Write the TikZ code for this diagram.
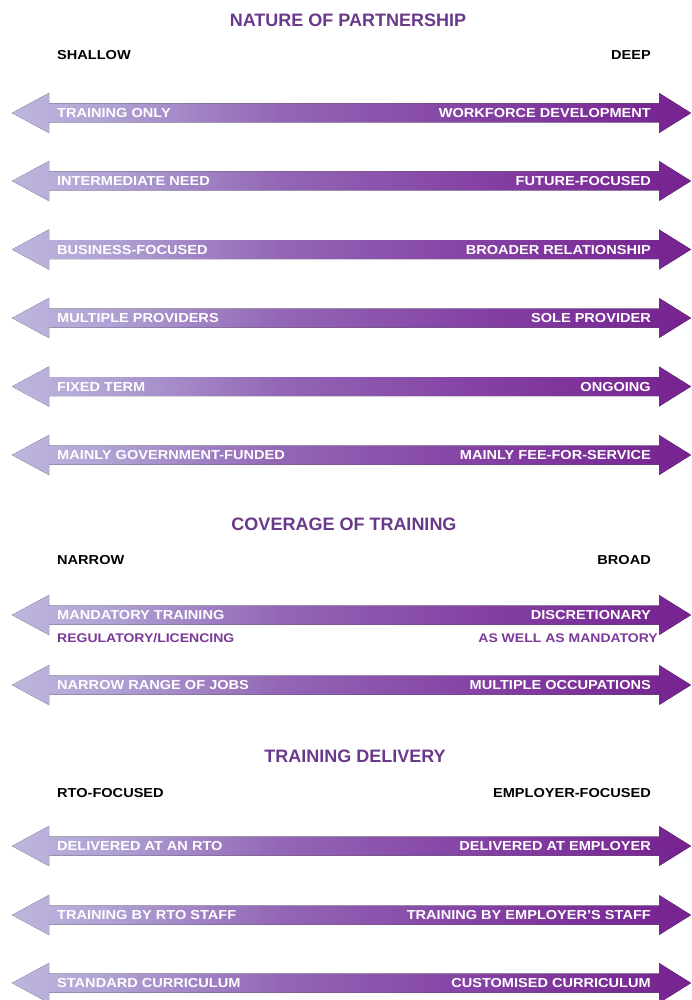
\documentclass[tikz,border=0pt]{standalone}
\usepackage{fontspec}
\setmainfont{Liberation Sans}
\usepackage{graphicx}
\definecolor{cA}{RGB}{190,182,222}
\definecolor{cA2}{RGB}{176,162,212}
\definecolor{cB}{RGB}{146,101,181}
\definecolor{cC}{RGB}{132,64,163}
\definecolor{cD}{RGB}{118,34,143}
\definecolor{ttl}{RGB}{106,58,138}
\definecolor{sub}{RGB}{123,58,152}
\pgfdeclarehorizontalshading{arrowshade}{100bp}{color(0bp)=(cA); color(25bp)=(cA); color(32bp)=(cA2); color(45bp)=(cB); color(60bp)=(cC); color(75bp)=(cD); color(100bp)=(cD)}
\newcommand\widetxt[1]{\scalebox{1.12}[1]{#1}}
\tikzset{
  lbl/.style={inner sep=0pt, text=white, font=\fontsize{13}{13}\selectfont\bfseries, text height=9.3pt, text depth=0pt},
  hdr/.style={inner sep=0pt, text=black, font=\fontsize{13}{13}\selectfont\bfseries, text height=9.3pt, text depth=0pt},
  subl/.style={inner sep=0pt, text=sub, font=\fontsize{12.5}{12.5}\selectfont\bfseries, text height=9pt, text depth=0pt},
  ttlstyle/.style={inner sep=0pt, text=ttl, font=\fontsize{18}{18}\selectfont\bfseries, text height=12.9pt, text depth=0pt},
  arrowfill/.style={shading=arrowshade}
}
\newcommand\duo[4]{%
  \fill[arrowfill] (12,#2) -- (49,#2-20) -- (49,#2-9.5) -- (659,#2-9.5) -- (659,#2-20) -- (691,#2) -- (659,#2+20) -- (659,#2+9.5) -- (49,#2+9.5) -- (49,#2+20) -- cycle;
  \node[lbl,anchor=west] (#1l) at (57,#2) {\widetxt{#3}};
  \node[lbl,anchor=east] (#1r) at (651,#2) {\widetxt{#4}};}
\begin{document}
\begin{tikzpicture}[x=1pt,y=-1pt]
\useasboundingbox[fill=white] (0,0) rectangle (691,1000);
% Section 1
\node[ttlstyle] (t1) at (348,20) {NATURE OF PARTNERSHIP};
\node[hdr,anchor=west] (h1l) at (57,55) {\widetxt{SHALLOW}};
\node[hdr,anchor=east] (h1r) at (651,55) {\widetxt{DEEP}};
\duo{a1}{113}{TRAINING ONLY}{WORKFORCE DEVELOPMENT}
\duo{a2}{181}{INTERMEDIATE NEED}{FUTURE-FOCUSED}
\duo{a3}{249.5}{BUSINESS-FOCUSED}{BROADER RELATIONSHIP}
\duo{a4}{318}{MULTIPLE PROVIDERS}{SOLE PROVIDER}
\duo{a5}{386.5}{FIXED TERM}{ONGOING}
\duo{a6}{455}{MAINLY GOVERNMENT-FUNDED}{MAINLY FEE-FOR-SERVICE}
% Section 2
\node[ttlstyle] (t2) at (344,524) {COVERAGE OF TRAINING};
\node[hdr,anchor=west] (h2l) at (57,560) {\widetxt{NARROW}};
\node[hdr,anchor=east] (h2r) at (651,560) {\widetxt{BROAD}};
\duo{a7}{615}{MANDATORY TRAINING}{DISCRETIONARY}
\node[subl,anchor=west] (s7l) at (57,638) {\widetxt{REGULATORY/LICENCING}};
\node[subl,anchor=east] (s7r) at (658,638) {\widetxt{AS WELL AS MANDATORY}};
\duo{a8}{685}{NARROW RANGE OF JOBS}{MULTIPLE OCCUPATIONS}
% Section 3
\node[ttlstyle] (t3) at (355,756) {TRAINING DELIVERY};
\node[hdr,anchor=west] (h3l) at (57,793) {\widetxt{RTO-FOCUSED}};
\node[hdr,anchor=east] (h3r) at (651,793) {\widetxt{EMPLOYER-FOCUSED}};
\duo{a9}{846}{DELIVERED AT AN RTO}{DELIVERED AT EMPLOYER}
\duo{a10}{915}{TRAINING BY RTO STAFF}{TRAINING BY EMPLOYER'S STAFF}
\duo{a11}{983}{STANDARD CURRICULUM}{CUSTOMISED CURRICULUM}
\end{tikzpicture}
\end{document}
